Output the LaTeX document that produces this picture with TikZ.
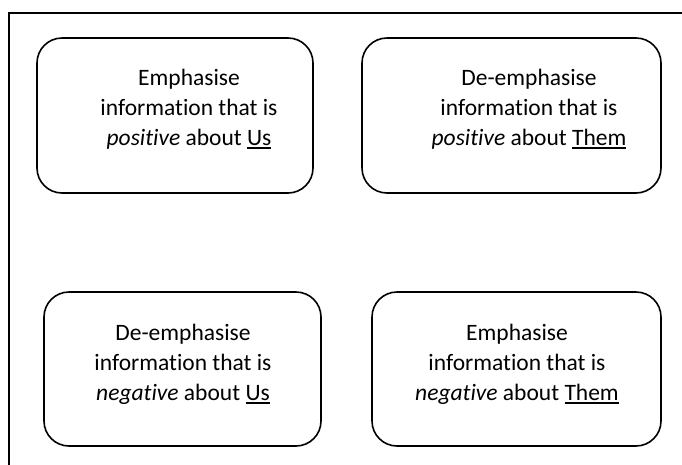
\documentclass[tikz,border=0pt]{standalone}
\usepackage{fontspec}
\setmainfont{Carlito}[Ligatures=NoCommon]
\newcommand{\myul}[1]{\setbox0\hbox{#1}\rlap{\rule[-3.5pt]{\wd0}{1.6pt}}\box0}
\begin{document}
\begin{tikzpicture}[x=1pt,y=-1pt,
  card/.style={draw,line width=1.6pt,rounded corners=25pt},
  cardtext/.style={align=center,font=\fontsize{23.5}{30}\selectfont,inner sep=0pt}]
\useasboundingbox (0,0) rectangle (682,464);
\coordinate (tl) at (9,13);
\coordinate (tr) at (690,13);
\coordinate (bl) at (9,470);
\draw[line width=1.6pt] (tr) -- (tl) -- (bl);
\draw[card] (37,38) rectangle (313,193);
\draw[card] (362,38) rectangle (661,193);
\draw[card] (44,292) rectangle (321,446);
\draw[card] (372,292) rectangle (661,446);
\node[cardtext] (a) at (189,109) {Emphasise\\information that is\\\textit{positive} about \myul{Us}};
\node[cardtext] (b) at (529,109) {De-emphasise\\information that is\\\textit{positive} about \myul{Them}};
\node[cardtext] (c) at (183,364) {De-emphasise\\information that is\\\textit{negative} about \myul{Us}};
\node[cardtext] (d) at (517,364) {Emphasise\\information that is\\\textit{negative} about \myul{Them}};
\end{tikzpicture}
\end{document}
